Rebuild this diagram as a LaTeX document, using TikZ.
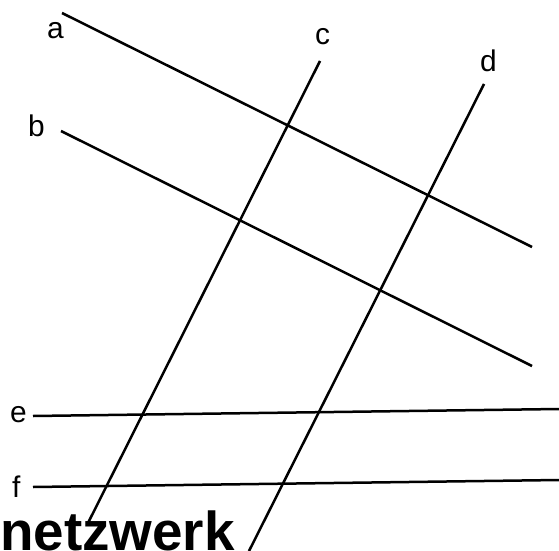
\documentclass[tikz,border=0pt]{standalone}
\usepackage{fontspec}
\setmainfont{Liberation Sans}
\begin{document}
\begin{tikzpicture}[x=1bp,y=-1bp,
  strecke/.style={line width=2.5bp,black},
  lbl/.style={anchor=base west,inner sep=0pt,font=\fontsize{30}{30}\selectfont}]
\useasboundingbox (0,0) rectangle (559,551);
% end points
\coordinate (a1) at (62,13);   \coordinate (a2) at (532,247);
\coordinate (b1) at (61,131);  \coordinate (b2) at (532,366);
\coordinate (c1) at (320,61);  \coordinate (c2) at (88,523);
\coordinate (d1) at (484,84);  \coordinate (d2) at (249,551);
\coordinate (e1) at (33,416);  \coordinate (e2) at (559,409);
\coordinate (f1) at (33,487);  \coordinate (f2) at (559,480);
\draw[strecke] (a1) -- (a2);
\draw[strecke] (b1) -- (b2);
\draw[strecke] (c1) -- (c2);
\draw[strecke] (d1) -- (d2);
\draw[strecke] (e1) -- (e2);
\draw[strecke] (f1) -- (f2);
% labels
\node[lbl] (la) at (47,39) {a};
\node[lbl] (lb) at (28,137) {b};
\node[lbl] (lc) at (315,45) {c};
\node[lbl] (ld) at (480,72) {d};
\node[lbl] (le) at (10,422) {e};
\node[lbl] (lf) at (12,497) {f};
\node[anchor=base west,inner sep=0pt,text depth=0pt,font=\bfseries\fontsize{55}{55}\selectfont] (title) at (0,550) {netzwerk};
\end{tikzpicture}
\end{document}
